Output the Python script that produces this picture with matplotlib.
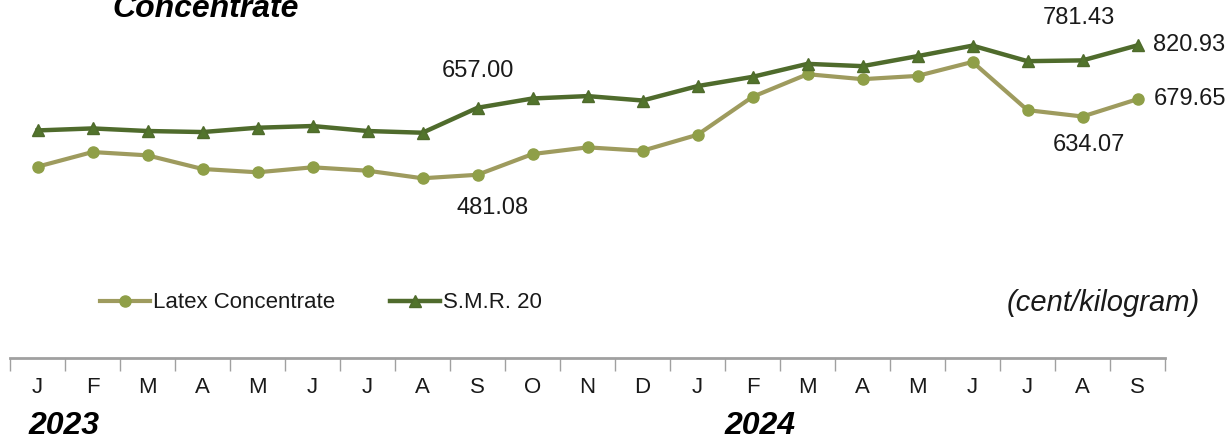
import matplotlib
matplotlib.use("Agg")
import matplotlib.pyplot as plt
import numpy as np

months = ["J", "F", "M", "A", "M", "J", "J", "A", "S", "O", "N", "D",
          "J", "F", "M", "A", "M", "J", "J", "A", "S"]
latex = [502.3, 540.8, 532.1, 496.3, 487.6, 500.7, 491.8, 471.9, 481.08,
         535.5, 553.1, 544.2, 586.1, 685.7, 745.2, 732.1, 740.7, 777.4,
         650.8, 634.07, 679.65]
smr = [597.5, 602.8, 596.0, 593.3, 604.6, 609.1, 596.0, 591.5, 657.00,
       681.4, 687.7, 676.1, 713.9, 738.2, 772.3, 766.3, 792.5, 820.2,
       779.4, 781.43, 820.93]
series_names = ["Latex Concentrate", "S.M.R. 20"]

plt.rcParams['font.family'] = ['Liberation Sans', 'DejaVu Sans']

W, H = 1227, 440
fig = plt.figure(figsize=(W / 100, H / 100), dpi=100)
ax = fig.add_axes([10 / W, (H - 358) / H, 1155 / W, 358 / H])
ax.set_xlim(-0.5, len(months) - 0.5)
ax.set_ylim(0, 940)

x = np.arange(len(months))
c_lat_line, c_lat_mark = "#9E9B5E", "#8F9F48"
c_smr_line, c_smr_mark = "#4F6B2C", "#52742C"
l1, = ax.plot(x, latex, color=c_lat_line, lw=3.0, marker="o", ms=8,
              mfc=c_lat_mark, mec=c_lat_mark, label=series_names[0],
              clip_on=False, zorder=3)
l2, = ax.plot(x, smr, color=c_smr_line, lw=3.2, marker="^", ms=9,
              mfc=c_smr_mark, mec=c_smr_line, label=series_names[1],
              clip_on=False, zorder=4)

for s in ["top", "left", "right"]:
    ax.spines[s].set_visible(False)
ax.spines["bottom"].set_color("#A0A0A0")
ax.spines["bottom"].set_linewidth(2)
ax.set_yticks([])
ax.set_xticks(x)
ax.set_xticklabels(months, fontsize=16, color="#1A1A1A")
ax.tick_params(axis="x", which="major", length=0, pad=14)
ax.set_xticks(np.arange(-0.5, len(months), 1.0), minor=True)
ax.tick_params(axis="x", which="minor", length=9, width=1, color="#A0A0A0",
               direction="out")

def lab(i, v, txt, dx, dy, ha="center"):
    ax.annotate(txt, (i, v), xytext=(dx, dy), textcoords="offset pixels",
                ha=ha, va="center", fontsize=17, color="#1A1A1A",
                annotation_clip=False)

lab(8, smr[8], "657.00", 0, 37)
lab(8, latex[8], "481.08", 15, -33)
lab(19, smr[19], "781.43", -4, 42)
lab(19, latex[19], "634.07", 6, -28)
lab(20, smr[20], "820.93", 16, 0, ha="left")
lab(20, latex[20], "679.65", 16, 0, ha="left")

leg = fig.legend(handles=[l1, l2], loc="center left",
                 bbox_to_anchor=(100 / W, 1 - 303 / H), ncol=2, frameon=False,
                 fontsize=16, handlelength=2.25, handletextpad=0.15,
                 columnspacing=2.45, borderpad=0, borderaxespad=0)
for t in leg.get_texts():
    t.set_color("#1A1A1A")

fig.text(1200 / W, 1 - 303 / H, "(cent/kilogram)", ha="right", va="center",
         fontsize=21, style="italic", color="#1A1A1A")
fig.text(112 / W, 1 - 17 / H, "Concentrate", ha="left", va="baseline",
         fontsize=23, weight="bold", style="italic", color="#000000")
fig.text(28 / W, 1 - 434 / H, "2023", ha="left", va="baseline",
         fontsize=23, weight="bold", style="italic", color="#000000")
fig.text(724 / W, 1 - 434 / H, "2024", ha="left", va="baseline",
         fontsize=23, weight="bold", style="italic", color="#000000")

fig.savefig("out.png", dpi=100)
